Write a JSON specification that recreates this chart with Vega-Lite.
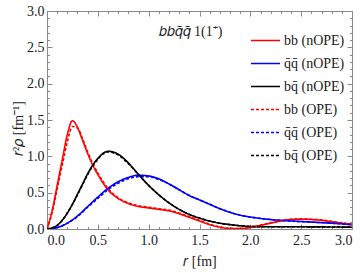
{
  "$schema": "https://vega.github.io/schema/vega-lite/v6.json",
  "width": 305,
  "height": 218,
  "autosize": "none",
  "padding": {"left": 47, "top": 11, "right": 12, "bottom": 44},
  "background": "white",
  "config": {
    "view": {"stroke": "#8a8a8a", "strokeWidth": 1},
    "font": "Liberation Serif",
    "axis": {
      "grid": false,
      "domain": false,
      "tickColor": "#8a8a8a",
      "labelFont": "Liberation Serif",
      "labelFontSize": 14,
      "labelColor": "#222",
      "titleFont": "Liberation Serif",
      "titleFontSize": 14,
      "titleFontWeight": "normal",
      "titleColor": "#222"
    },
    "legend": {
      "labelFont": "Liberation Serif",
      "labelFontSize": 14,
      "labelColor": "#222"
    },
    "title": {"font": "Liberation Serif", "fontSize": 14, "fontWeight": "normal", "color": "#222"}
  },
  "title": {"text": "𝑏𝑏𝑞̄𝑞̄   1(1⁺)", "anchor": "middle", "offset": -35, "dx": -9},
  "data": {"values": [
    {"r":0,"v":0,"s":"bb (nOPE)"},{"r":0.05,"v":0.25,"s":"bb (nOPE)"},{"r":0.1,"v":0.6,"s":"bb (nOPE)"},{"r":0.15,"v":0.95,"s":"bb (nOPE)"},{"r":0.2,"v":1.3,"s":"bb (nOPE)"},{"r":0.25,"v":1.49,"s":"bb (nOPE)"},{"r":0.3,"v":1.4,"s":"bb (nOPE)"},{"r":0.35,"v":1.22,"s":"bb (nOPE)"},{"r":0.4,"v":1.04,"s":"bb (nOPE)"},{"r":0.45,"v":0.88,"s":"bb (nOPE)"},{"r":0.5,"v":0.75,"s":"bb (nOPE)"},{"r":0.6,"v":0.54,"s":"bb (nOPE)"},{"r":0.7,"v":0.42,"s":"bb (nOPE)"},{"r":0.8,"v":0.35,"s":"bb (nOPE)"},{"r":0.9,"v":0.31,"s":"bb (nOPE)"},{"r":1.0,"v":0.29,"s":"bb (nOPE)"},{"r":1.1,"v":0.27,"s":"bb (nOPE)"},{"r":1.2,"v":0.25,"s":"bb (nOPE)"},{"r":1.3,"v":0.21,"s":"bb (nOPE)"},{"r":1.4,"v":0.16,"s":"bb (nOPE)"},{"r":1.5,"v":0.11,"s":"bb (nOPE)"},{"r":1.6,"v":0.06,"s":"bb (nOPE)"},{"r":1.7,"v":0.025,"s":"bb (nOPE)"},{"r":1.8,"v":0.007,"s":"bb (nOPE)"},{"r":1.9,"v":0.006,"s":"bb (nOPE)"},{"r":2.0,"v":0.02,"s":"bb (nOPE)"},{"r":2.1,"v":0.05,"s":"bb (nOPE)"},{"r":2.2,"v":0.08,"s":"bb (nOPE)"},{"r":2.3,"v":0.11,"s":"bb (nOPE)"},{"r":2.4,"v":0.13,"s":"bb (nOPE)"},{"r":2.5,"v":0.135,"s":"bb (nOPE)"},{"r":2.6,"v":0.13,"s":"bb (nOPE)"},{"r":2.7,"v":0.12,"s":"bb (nOPE)"},{"r":2.8,"v":0.1,"s":"bb (nOPE)"},{"r":2.9,"v":0.08,"s":"bb (nOPE)"},{"r":3.0,"v":0.06,"s":"bb (nOPE)"},

    {"r":0,"v":0,"s":"q̄q̄ (nOPE)"},{"r":0.1,"v":0.02,"s":"q̄q̄ (nOPE)"},{"r":0.2,"v":0.08,"s":"q̄q̄ (nOPE)"},{"r":0.3,"v":0.18,"s":"q̄q̄ (nOPE)"},{"r":0.4,"v":0.31,"s":"q̄q̄ (nOPE)"},{"r":0.5,"v":0.44,"s":"q̄q̄ (nOPE)"},{"r":0.6,"v":0.56,"s":"q̄q̄ (nOPE)"},{"r":0.7,"v":0.65,"s":"q̄q̄ (nOPE)"},{"r":0.8,"v":0.71,"s":"q̄q̄ (nOPE)"},{"r":0.9,"v":0.74,"s":"q̄q̄ (nOPE)"},{"r":1.0,"v":0.73,"s":"q̄q̄ (nOPE)"},{"r":1.1,"v":0.69,"s":"q̄q̄ (nOPE)"},{"r":1.2,"v":0.62,"s":"q̄q̄ (nOPE)"},{"r":1.3,"v":0.54,"s":"q̄q̄ (nOPE)"},{"r":1.4,"v":0.46,"s":"q̄q̄ (nOPE)"},{"r":1.5,"v":0.4,"s":"q̄q̄ (nOPE)"},{"r":1.6,"v":0.34,"s":"q̄q̄ (nOPE)"},{"r":1.7,"v":0.28,"s":"q̄q̄ (nOPE)"},{"r":1.8,"v":0.23,"s":"q̄q̄ (nOPE)"},{"r":1.9,"v":0.19,"s":"q̄q̄ (nOPE)"},{"r":2.0,"v":0.165,"s":"q̄q̄ (nOPE)"},{"r":2.1,"v":0.145,"s":"q̄q̄ (nOPE)"},{"r":2.2,"v":0.13,"s":"q̄q̄ (nOPE)"},{"r":2.4,"v":0.11,"s":"q̄q̄ (nOPE)"},{"r":2.6,"v":0.095,"s":"q̄q̄ (nOPE)"},{"r":2.8,"v":0.08,"s":"q̄q̄ (nOPE)"},{"r":3.0,"v":0.06,"s":"q̄q̄ (nOPE)"},

    {"r":0,"v":0,"s":"bq̄ (nOPE)"},{"r":0.1,"v":0.05,"s":"bq̄ (nOPE)"},{"r":0.15,"v":0.12,"s":"bq̄ (nOPE)"},{"r":0.2,"v":0.22,"s":"bq̄ (nOPE)"},{"r":0.25,"v":0.34,"s":"bq̄ (nOPE)"},{"r":0.3,"v":0.48,"s":"bq̄ (nOPE)"},{"r":0.35,"v":0.62,"s":"bq̄ (nOPE)"},{"r":0.4,"v":0.76,"s":"bq̄ (nOPE)"},{"r":0.45,"v":0.88,"s":"bq̄ (nOPE)"},{"r":0.5,"v":0.97,"s":"bq̄ (nOPE)"},{"r":0.55,"v":1.04,"s":"bq̄ (nOPE)"},{"r":0.6,"v":1.07,"s":"bq̄ (nOPE)"},{"r":0.65,"v":1.06,"s":"bq̄ (nOPE)"},{"r":0.7,"v":1.03,"s":"bq̄ (nOPE)"},{"r":0.8,"v":0.91,"s":"bq̄ (nOPE)"},{"r":0.9,"v":0.75,"s":"bq̄ (nOPE)"},{"r":1.0,"v":0.6,"s":"bq̄ (nOPE)"},{"r":1.1,"v":0.47,"s":"bq̄ (nOPE)"},{"r":1.2,"v":0.36,"s":"bq̄ (nOPE)"},{"r":1.3,"v":0.27,"s":"bq̄ (nOPE)"},{"r":1.4,"v":0.2,"s":"bq̄ (nOPE)"},{"r":1.5,"v":0.15,"s":"bq̄ (nOPE)"},{"r":1.6,"v":0.11,"s":"bq̄ (nOPE)"},{"r":1.7,"v":0.08,"s":"bq̄ (nOPE)"},{"r":1.8,"v":0.06,"s":"bq̄ (nOPE)"},{"r":1.9,"v":0.045,"s":"bq̄ (nOPE)"},{"r":2.0,"v":0.035,"s":"bq̄ (nOPE)"},{"r":2.2,"v":0.03,"s":"bq̄ (nOPE)"},{"r":2.5,"v":0.03,"s":"bq̄ (nOPE)"},{"r":3.0,"v":0.025,"s":"bq̄ (nOPE)"},

    {"r":0,"v":0,"s":"bb (OPE)"},{"r":0.05,"v":0.22,"s":"bb (OPE)"},{"r":0.1,"v":0.55,"s":"bb (OPE)"},{"r":0.15,"v":0.88,"s":"bb (OPE)"},{"r":0.2,"v":1.2,"s":"bb (OPE)"},{"r":0.25,"v":1.41,"s":"bb (OPE)"},{"r":0.3,"v":1.39,"s":"bb (OPE)"},{"r":0.35,"v":1.24,"s":"bb (OPE)"},{"r":0.4,"v":1.06,"s":"bb (OPE)"},{"r":0.45,"v":0.9,"s":"bb (OPE)"},{"r":0.5,"v":0.77,"s":"bb (OPE)"},{"r":0.6,"v":0.56,"s":"bb (OPE)"},{"r":0.7,"v":0.43,"s":"bb (OPE)"},{"r":0.8,"v":0.36,"s":"bb (OPE)"},{"r":0.9,"v":0.32,"s":"bb (OPE)"},{"r":1.0,"v":0.3,"s":"bb (OPE)"},{"r":1.1,"v":0.28,"s":"bb (OPE)"},{"r":1.2,"v":0.26,"s":"bb (OPE)"},{"r":1.3,"v":0.22,"s":"bb (OPE)"},{"r":1.4,"v":0.17,"s":"bb (OPE)"},{"r":1.5,"v":0.12,"s":"bb (OPE)"},{"r":1.6,"v":0.065,"s":"bb (OPE)"},{"r":1.7,"v":0.028,"s":"bb (OPE)"},{"r":1.8,"v":0.008,"s":"bb (OPE)"},{"r":1.9,"v":0.007,"s":"bb (OPE)"},{"r":2.0,"v":0.022,"s":"bb (OPE)"},{"r":2.1,"v":0.053,"s":"bb (OPE)"},{"r":2.2,"v":0.085,"s":"bb (OPE)"},{"r":2.3,"v":0.115,"s":"bb (OPE)"},{"r":2.4,"v":0.135,"s":"bb (OPE)"},{"r":2.5,"v":0.14,"s":"bb (OPE)"},{"r":2.6,"v":0.135,"s":"bb (OPE)"},{"r":2.7,"v":0.125,"s":"bb (OPE)"},{"r":2.8,"v":0.105,"s":"bb (OPE)"},{"r":2.9,"v":0.085,"s":"bb (OPE)"},{"r":3.0,"v":0.065,"s":"bb (OPE)"},

    {"r":0,"v":0,"s":"q̄q̄ (OPE)"},{"r":0.1,"v":0.02,"s":"q̄q̄ (OPE)"},{"r":0.2,"v":0.08,"s":"q̄q̄ (OPE)"},{"r":0.3,"v":0.17,"s":"q̄q̄ (OPE)"},{"r":0.4,"v":0.3,"s":"q̄q̄ (OPE)"},{"r":0.5,"v":0.42,"s":"q̄q̄ (OPE)"},{"r":0.6,"v":0.54,"s":"q̄q̄ (OPE)"},{"r":0.7,"v":0.63,"s":"q̄q̄ (OPE)"},{"r":0.8,"v":0.69,"s":"q̄q̄ (OPE)"},{"r":0.9,"v":0.72,"s":"q̄q̄ (OPE)"},{"r":1.0,"v":0.72,"s":"q̄q̄ (OPE)"},{"r":1.1,"v":0.68,"s":"q̄q̄ (OPE)"},{"r":1.2,"v":0.62,"s":"q̄q̄ (OPE)"},{"r":1.3,"v":0.54,"s":"q̄q̄ (OPE)"},{"r":1.4,"v":0.46,"s":"q̄q̄ (OPE)"},{"r":1.5,"v":0.4,"s":"q̄q̄ (OPE)"},{"r":1.6,"v":0.34,"s":"q̄q̄ (OPE)"},{"r":1.7,"v":0.28,"s":"q̄q̄ (OPE)"},{"r":1.8,"v":0.23,"s":"q̄q̄ (OPE)"},{"r":1.9,"v":0.19,"s":"q̄q̄ (OPE)"},{"r":2.0,"v":0.165,"s":"q̄q̄ (OPE)"},{"r":2.1,"v":0.145,"s":"q̄q̄ (OPE)"},{"r":2.2,"v":0.13,"s":"q̄q̄ (OPE)"},{"r":2.4,"v":0.11,"s":"q̄q̄ (OPE)"},{"r":2.6,"v":0.095,"s":"q̄q̄ (OPE)"},{"r":2.8,"v":0.08,"s":"q̄q̄ (OPE)"},{"r":3.0,"v":0.06,"s":"q̄q̄ (OPE)"},

    {"r":0,"v":0,"s":"bq̄ (OPE)"},{"r":0.1,"v":0.05,"s":"bq̄ (OPE)"},{"r":0.15,"v":0.12,"s":"bq̄ (OPE)"},{"r":0.2,"v":0.22,"s":"bq̄ (OPE)"},{"r":0.25,"v":0.34,"s":"bq̄ (OPE)"},{"r":0.3,"v":0.47,"s":"bq̄ (OPE)"},{"r":0.35,"v":0.61,"s":"bq̄ (OPE)"},{"r":0.4,"v":0.75,"s":"bq̄ (OPE)"},{"r":0.45,"v":0.87,"s":"bq̄ (OPE)"},{"r":0.5,"v":0.96,"s":"bq̄ (OPE)"},{"r":0.55,"v":1.03,"s":"bq̄ (OPE)"},{"r":0.6,"v":1.06,"s":"bq̄ (OPE)"},{"r":0.65,"v":1.05,"s":"bq̄ (OPE)"},{"r":0.7,"v":1.02,"s":"bq̄ (OPE)"},{"r":0.8,"v":0.9,"s":"bq̄ (OPE)"},{"r":0.9,"v":0.75,"s":"bq̄ (OPE)"},{"r":1.0,"v":0.6,"s":"bq̄ (OPE)"},{"r":1.1,"v":0.47,"s":"bq̄ (OPE)"},{"r":1.2,"v":0.36,"s":"bq̄ (OPE)"},{"r":1.3,"v":0.27,"s":"bq̄ (OPE)"},{"r":1.4,"v":0.2,"s":"bq̄ (OPE)"},{"r":1.5,"v":0.15,"s":"bq̄ (OPE)"},{"r":1.6,"v":0.11,"s":"bq̄ (OPE)"},{"r":1.7,"v":0.08,"s":"bq̄ (OPE)"},{"r":1.8,"v":0.06,"s":"bq̄ (OPE)"},{"r":1.9,"v":0.045,"s":"bq̄ (OPE)"},{"r":2.0,"v":0.035,"s":"bq̄ (OPE)"},{"r":2.2,"v":0.03,"s":"bq̄ (OPE)"},{"r":2.5,"v":0.03,"s":"bq̄ (OPE)"},{"r":3.0,"v":0.025,"s":"bq̄ (OPE)"}
  ]},
  "encoding": {
    "x": {"field": "r", "type": "quantitative", "scale": {"domain": [0, 3], "nice": false, "zero": false}},
    "y": {"field": "v", "type": "quantitative", "scale": {"domain": [0, 3], "nice": false}}
  },
  "layer": [
    {
      "mark": {"type": "line", "interpolate": "monotone", "strokeWidth": 1.6, "clip": true},
      "encoding": {
        "x": {"field": "r", "type": "quantitative", "axis": {"orient": "bottom", "values": [0, 0.5, 1, 1.5, 2, 2.5, 3], "format": ".1f", "tickSize": -5, "labelPadding": 9, "title": "𝑟  [fm]", "titlePadding": 7}},
        "y": {"field": "v", "type": "quantitative", "axis": {"orient": "left", "values": [0, 0.5, 1, 1.5, 2, 2.5, 3], "format": ".1f", "tickSize": -5, "labelPadding": 8, "title": "𝑟²𝜌 [fm⁻¹]", "titlePadding": 1, "titleY": 117}},
        "color": {"field": "s", "type": "nominal", "title": null,
          "scale": {"domain": ["bb (nOPE)", "q̄q̄ (nOPE)", "bq̄ (nOPE)", "bb (OPE)", "q̄q̄ (OPE)", "bq̄ (OPE)"], "range": ["#ff0000", "#0000ff", "#000000", "#ff0000", "#0000ff", "#000000"]},
          "legend": {"orient": "none", "legendX": 203, "legendY": 14, "symbolType": "stroke", "symbolSize": 841, "symbolStrokeWidth": 1.6, "rowPadding": -0.8, "labelOffset": 3}},
        "strokeDash": {"field": "s", "type": "nominal", "title": null,
          "scale": {"domain": ["bb (nOPE)", "q̄q̄ (nOPE)", "bq̄ (nOPE)", "bb (OPE)", "q̄q̄ (OPE)", "bq̄ (OPE)"], "range": [[1, 0], [1, 0], [1, 0], [3, 2], [3, 2], [3, 2]]}}
      }
    },
    {
      "mark": {"type": "line", "opacity": 0},
      "encoding": {
        "x": {"field": "r", "type": "quantitative", "axis": {"orient": "bottom", "values": [0.1,0.2,0.3,0.4,0.6,0.7,0.8,0.9,1.1,1.2,1.3,1.4,1.6,1.7,1.8,1.9,2.1,2.2,2.3,2.4,2.6,2.7,2.8,2.9], "labels": false, "tickSize": -2.5, "title": null}},
        "y": {"field": "v", "type": "quantitative", "axis": {"orient": "left", "values": [0.1,0.2,0.3,0.4,0.6,0.7,0.8,0.9,1.1,1.2,1.3,1.4,1.6,1.7,1.8,1.9,2.1,2.2,2.3,2.4,2.6,2.7,2.8,2.9], "labels": false, "tickSize": -2.5, "title": null}}
      }
    },
    {
      "mark": {"type": "line", "opacity": 0},
      "encoding": {
        "x": {"field": "r", "type": "quantitative", "axis": {"orient": "top", "values": [0, 0.5, 1, 1.5, 2, 2.5, 3], "labels": false, "tickSize": -5, "title": null}},
        "y": {"field": "v", "type": "quantitative", "axis": {"orient": "right", "values": [0, 0.5, 1, 1.5, 2, 2.5, 3], "labels": false, "tickSize": -5, "title": null}}
      }
    },
    {
      "mark": {"type": "line", "opacity": 0},
      "encoding": {
        "x": {"field": "r", "type": "quantitative", "axis": {"orient": "top", "values": [0.1,0.2,0.3,0.4,0.6,0.7,0.8,0.9,1.1,1.2,1.3,1.4,1.6,1.7,1.8,1.9,2.1,2.2,2.3,2.4,2.6,2.7,2.8,2.9], "labels": false, "tickSize": -2.5, "title": null}},
        "y": {"field": "v", "type": "quantitative", "axis": {"orient": "right", "values": [0.1,0.2,0.3,0.4,0.6,0.7,0.8,0.9,1.1,1.2,1.3,1.4,1.6,1.7,1.8,1.9,2.1,2.2,2.3,2.4,2.6,2.7,2.8,2.9], "labels": false, "tickSize": -2.5, "title": null}}
      }
    }
  ],
  "resolve": {"axis": {"x": "independent", "y": "independent"}}
}
